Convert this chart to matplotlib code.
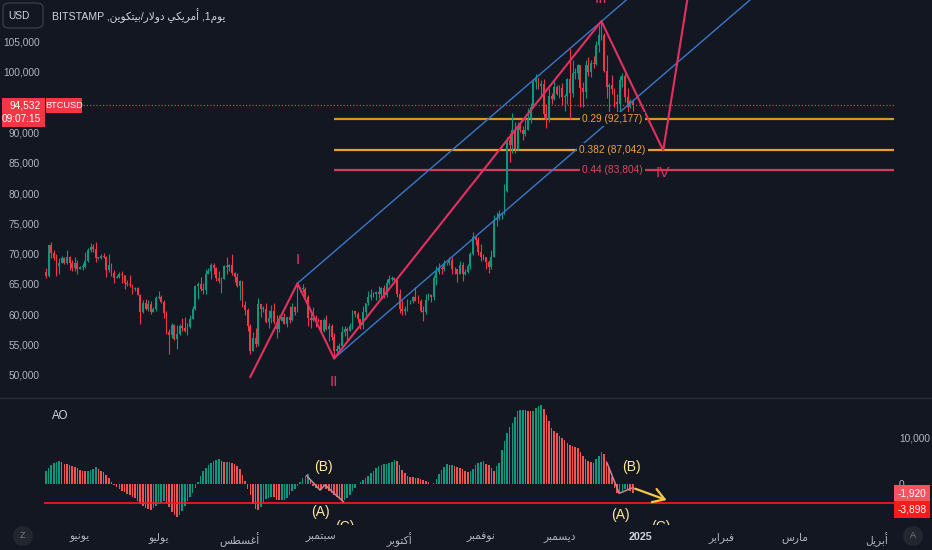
"""BTCUSD 일봉 + AO (TradingView 다크 테마 재현)

상단: 캔들 + 엘리엇 파동 / 채널 / 피보나치 레벨
하단: Awesome Oscillator 히스토그램
"""
import matplotlib
matplotlib.use("Agg")
import matplotlib.pyplot as plt
from matplotlib.lines import Line2D
from matplotlib.patches import Rectangle, FancyBboxPatch, Ellipse
import numpy as np
import pandas as pd

plt.rcParams["font.family"] = ["Liberation Sans", "DejaVu Sans"]

# === Data (가격: 천 달러) ===
START = "2024-05-19"
OPEN_FIRST = 66.9
CLOSE = [
    66.3, 71.4, 70.1, 69.2, 67.9, 68.5, 69.3, 68.5, 69.4, 68.4, 67.6, 68.4, 67.5,
    67.8, 67.8, 68.8, 70.6, 71.1, 70.8, 69.3, 69.3, 69.6, 69.5, 67.3, 68.2, 66.8, 66.0, 66.2, 66.6,
    66.5, 65.2, 65.0, 64.8, 64.1, 64.3, 63.2, 60.3, 61.8, 60.9, 61.7, 60.3, 60.9, 62.7,
    62.9, 62.0, 60.2, 57.0, 56.6, 58.2, 55.9, 56.7, 58.0, 57.7, 57.3, 57.9, 59.2, 60.8, 64.7, 65.0,
    64.1, 64.0, 66.7, 67.2, 68.2, 67.6, 65.9, 65.4, 65.8, 67.9, 67.8, 68.2, 66.8, 66.2, 64.6,
    65.4, 61.5, 60.7, 58.1, 54.0, 56.0, 55.0, 61.7, 60.9, 60.9, 58.7, 59.4, 60.6, 58.7, 57.6, 58.9,
    59.5, 58.4, 59.5, 59.0, 61.2, 60.4, 64.1, 64.2, 64.2, 62.8, 59.4, 59.0, 59.4, 59.1, 59.0,
    57.3, 59.1, 57.5, 58.0, 56.2, 54.0, 54.2, 54.8, 57.0, 57.6, 57.3, 58.1, 60.5, 60.0, 59.2,
    58.2, 60.3, 61.8, 62.9, 63.2, 63.4, 63.6, 63.3, 64.3, 63.2, 65.2, 65.8, 65.9, 65.6, 63.3,
    60.8, 60.6, 60.8, 62.1, 62.1, 62.8, 62.2, 62.1, 60.6, 60.3, 62.4, 63.2, 62.9, 66.0, 67.0, 67.6,
    67.4, 68.4, 68.4, 69.0, 67.4, 67.4, 66.7, 68.2, 66.6, 67.0, 68.0, 69.9, 72.7, 72.3, 70.3,
    69.5, 69.4, 68.7, 67.8, 69.4, 75.6, 75.9, 76.5, 76.7, 80.4, 88.7, 88.0, 90.5, 87.3, 91.1,
    90.5, 89.8, 90.5, 92.3, 94.3, 98.4, 99.0, 97.7, 98.0, 93.0, 92.0, 96.0, 95.6, 97.5, 96.4,
    97.3, 95.9, 96.0, 98.8, 96.6, 99.9, 99.9, 101.2, 97.4, 96.7, 101.2, 100.0, 101.5, 101.4, 104.5,
    106.1, 106.1, 100.2, 97.5, 97.8, 97.2, 95.1, 94.7, 98.7, 99.4, 95.8, 94.2, 95.2, 94.532,
]
HIGH = [
    67.7, 71.5, 71.9, 70.6, 70.0, 69.2, 69.6, 69.5, 70.6, 69.6, 68.9, 69.5, 69.0,
    67.9, 68.4, 70.2, 71.0, 71.7, 71.6, 71.9, 69.5, 69.9, 70.1, 69.6, 69.9, 68.4, 67.3, 66.4, 66.9,
    67.2, 66.5, 65.7, 66.5, 65.0, 64.5, 64.5, 63.4, 62.4, 62.5, 62.3, 62.2, 61.2, 63.0,
    63.8, 63.2, 62.3, 60.5, 57.5, 58.5, 58.3, 58.2, 58.3, 59.4, 59.6, 58.5, 59.8, 61.4, 64.9, 65.3,
    66.1, 65.1, 67.4, 67.6, 68.4, 68.5, 67.8, 67.1, 66.1, 68.2, 69.4, 68.3, 70.0, 66.9, 66.8,
    65.6, 65.0, 62.2, 61.1, 58.3, 57.0, 57.7, 62.7, 61.7, 61.4, 61.8, 60.7, 61.6, 61.8, 59.8, 59.8,
    59.6, 60.2, 59.6, 61.4, 61.8, 61.4, 64.9, 64.5, 65.0, 64.5, 63.2, 60.2, 61.2, 59.9, 59.4,
    59.1, 59.4, 59.8, 58.5, 58.3, 56.9, 54.9, 55.3, 58.1, 58.0, 57.9, 58.6, 60.7, 60.6, 60.4,
    59.2, 61.3, 61.8, 63.8, 64.1, 63.6, 63.9, 64.7, 64.5, 64.8, 65.8, 66.5, 66.3, 66.1, 65.6,
    64.1, 62.4, 61.4, 62.5, 62.4, 63.0, 64.5, 63.2, 62.5, 61.3, 63.4, 63.5, 63.3, 66.5, 67.9, 68.4,
    67.9, 68.9, 68.7, 69.4, 69.5, 67.8, 67.5, 68.8, 68.7, 67.4, 68.3, 70.3, 73.6, 72.9, 72.7,
    71.6, 69.9, 69.4, 69.0, 70.6, 76.4, 76.9, 77.2, 76.9, 81.5, 89.2, 89.9, 93.3, 91.8, 91.8,
    91.5, 91.0, 92.6, 94.0, 94.9, 98.9, 99.6, 99.0, 98.7, 98.9, 94.7, 97.3, 96.6, 98.7, 97.8,
    97.9, 98.2, 96.3, 99.0, 103.9, 101.9, 100.6, 101.4, 101.2, 98.3, 101.9, 102.5, 101.9, 102.6, 105.2,
    107.8, 108.3, 106.5, 102.8, 98.1, 99.5, 97.3, 96.4, 99.4, 99.9, 99.9, 97.3, 95.5, 95.2,
]
LOW = [
    65.9, 66.1, 69.2, 68.9, 66.3, 66.6, 68.5, 68.3, 68.3, 67.3, 67.2, 67.2, 66.7,
    67.4, 67.3, 67.6, 68.6, 70.2, 70.2, 68.6, 69.1, 69.1, 69.2, 66.1, 66.9, 66.3, 65.1, 65.9, 66.0,
    65.1, 64.1, 64.7, 64.5, 63.4, 63.9, 63.2, 58.4, 60.2, 60.7, 60.6, 60.0, 60.3, 60.6,
    62.5, 61.8, 59.4, 56.8, 53.5, 56.0, 55.8, 54.3, 56.6, 57.2, 57.0, 56.6, 57.8, 59.3, 60.7, 62.5,
    63.9, 63.3, 63.3, 66.6, 65.8, 66.6, 65.5, 65.1, 63.5, 65.8, 66.7, 67.1, 66.5, 65.3, 64.5,
    62.3, 61.2, 59.9, 57.3, 53.5, 54.0, 54.6, 54.8, 59.6, 60.3, 58.5, 57.7, 58.5, 58.4, 56.1, 57.1,
    58.8, 58.3, 57.9, 58.6, 58.8, 59.8, 60.4, 63.6, 63.7, 62.8, 58.1, 57.8, 58.8, 57.9, 58.7,
    57.2, 57.1, 57.4, 55.6, 55.7, 52.6, 53.7, 53.7, 54.6, 56.4, 55.6, 57.3, 57.6, 59.6, 58.7,
    57.5, 57.6, 59.2, 61.6, 62.4, 62.8, 62.4, 62.7, 62.7, 62.7, 62.9, 64.9, 65.4, 65.4, 62.9,
    60.2, 59.9, 59.9, 60.5, 61.7, 61.9, 62.1, 61.8, 60.3, 58.9, 60.1, 62.4, 62.0, 62.4, 64.8, 66.7,
    66.7, 67.1, 68.1, 68.1, 66.6, 66.6, 65.3, 66.6, 65.5, 66.5, 66.8, 67.5, 69.7, 71.4, 69.7,
    68.8, 69.0, 67.5, 66.8, 67.5, 69.4, 74.5, 75.6, 75.8, 76.5, 80.2, 85.1, 86.6, 86.7, 87.1,
    90.1, 88.8, 89.4, 90.4, 91.5, 94.1, 97.2, 97.2, 95.8, 92.6, 90.8, 91.8, 94.7, 95.4, 96.2,
    95.7, 94.5, 93.6, 94.7, 92.3, 95.9, 98.9, 98.8, 94.2, 94.3, 95.7, 99.3, 99.2, 100.7, 101.2,
    103.3, 105.3, 100.0, 95.7, 92.2, 96.4, 94.2, 92.4, 93.4, 97.6, 95.1, 93.3, 94.1, 93.5,
]
# Awesome Oscillator (천 단위)
AO = [
    2.9, 3.6, 4.1, 4.6, 4.9, 5.0, 4.9, 4.5, 4.3, 4.2,
    4.0, 3.8, 3.5, 3.2, 3.0, 2.9, 2.9, 3.2, 3.4, 3.7,
    3.4, 3.0, 2.6, 2.0, 1.4, 0.6, -0.2, -0.6, -1.0, -1.4,
    -1.7, -2.0, -2.2, -2.6, -2.9, -3.6, -4.2, -4.7, -5.0, -5.3,
    -5.4, -5.1, -4.7, -4.2, -3.9, -3.6, -4.2, -4.8, -6.0, -6.6,
    -7.0, -6.6, -5.8, -4.6, -3.6, -2.7, -1.8, -0.8, 0.5, 1.8,
    2.8, 3.6, 4.2, 4.6, 5.0, 5.3, 5.4, 5.0, 4.8, 4.8,
    4.8, 4.7, 4.5, 4.0, 3.4, 2.0, 0.8, -1.0, -2.2, -4.3,
    -5.2, -5.4, -4.9, -3.8, -3.2, -2.9, -2.6, -2.7, -3.3, -3.4,
    -3.4, -3.3, -3.0, -2.3, -1.5, -1.0, -0.4, 0.6, 1.4, 1.9,
    2.2, 1.0, -0.4, -0.7, -1.0, -1.1, -0.4, -0.9, -1.4, -1.8,
    -2.2, -2.6, -2.9, -3.6, -3.3, -2.9, -2.2, -1.4, -0.7, 0.2,
    0.6, 0.9, 1.3, 1.8, 2.4, 3.0, 3.5, 3.9, 4.1, 4.3,
    4.5, 4.7, 4.9, 5.2, 5.0, 4.1, 3.2, 2.4, 1.8, 1.7,
    1.6, 1.4, 1.3, 1.1, 0.9, 0.7, 0.6, 0.1, 0.4, 1.1,
    2.2, 3.2, 3.8, 4.3, 4.2, 4.2, 3.9, 3.7, 3.5, 3.4,
    3.0, 2.7, 3.0, 3.4, 4.1, 4.7, 4.9, 5.0, 4.5, 4.1,
    3.5, 3.0, 4.0, 4.7, 7.5, 9.3, 11.1, 12.3, 13.3, 14.6,
    15.8, 16.1, 16.1, 16.0, 15.9, 15.8, 15.8, 16.5, 16.8, 17.0,
    16.2, 15.0, 13.6, 12.2, 11.6, 11.1, 10.5, 10.0, 9.5, 9.0,
    8.6, 8.2, 8.0, 7.9, 7.0, 6.1, 5.5, 5.0, 4.8, 4.7,
    5.5, 6.1, 7.0, 6.6, 5.0, 3.5, 1.6, -0.8, -1.9, -1.6,
    -1.3, -0.9, -1.2, -1.5, -1.92,
]

PRICE_NOW = 94532
COUNTDOWN = "09:07:15"
AO_LINE = -3898

FIB_NAMES = ["0.29", "0.382", "0.44"]
FIB_PRICES = [92177, 87042, 83804]
FIB_START = 110  # 일봉 인덱스 (II 저점)

# 엘리엇 파동 (일봉 인덱스, 가격)
WAVE_X = [78, 96, 110, 212, 235.6, 250]
WAVE_P = [49650, 65100, 52700, 108400, 87042, 126000]
WAVE_NAMES = [None, "I", "II", "III", "IV", None]

CH_UP_X, CH_UP_P = [96, 280], [65100, 133700]
CH_LO_X, CH_LO_P = [110, 280], [52700, 116100]

# AO 보조 작도 (인덱스, 천 단위 값)
AO_SEP_X, AO_SEP_V = [99.5, 104.6, 106.5, 113.5], [1.9, -1.2, -0.1, -3.7]
AO_DEC_X, AO_DEC_V = [214.2, 218.8, 223.9], [4.6, -1.9, -0.7]
AO_ARROW_X, AO_ARROW_V = [223.9, 237.9], [-0.7, -3.55]
AO_TXT = ["(B)", "(A)", "(C)", "(B)", "(A)", "(C)"]
AO_TXT_X = [105.9, 104.9, 114.1, 223.3, 219.1, 234.7]
AO_TXT_V = [3.8, -6.0, -9.2, 3.8, -6.6, -9.2]

MONTH_DATES = ["2024-06-01", "2024-07-01", "2024-08-01", "2024-09-01", "2024-10-01",
               "2024-11-01", "2024-12-01", "2025-01-01", "2025-02-01", "2025-03-01",
               "2025-04-01"]
# 아랍어 (표시형, 시각 순서)
MONTH_LABELS = [
    "\ufeee\ufef4\ufee7\ufeee\ufef3",
    "\ufeee\ufef4\ufedf\ufeee\ufef3",
    "\ufeb2\ufec4\ufeb4\ufecf\ufe83",
    "\ufeae\ufe92\ufee4\ufe98\ufe92\ufeb3",
    "\ufeae\ufe91\ufeee\ufe98\ufedb\ufe83",
    "\ufeae\ufe92\ufee4\ufed3\ufeee\ufee7",
    "\ufeae\ufe92\ufee4\ufeb4\ufef3\ufea9",
    "2025",
    "\ufeae\ufef3\ufe8d\ufeae\ufe92\ufed3",
    "\ufeb1\ufead\ufe8e\ufee3",
    "\ufede\ufef3\ufeae\ufe91\ufe83",
]
TITLE = ("BITSTAMP ,\ufee6\ufef3\ufeee\ufedc\ufe98\ufef4\ufe91/\ufead\ufefb\ufeed\ufea9 "
         "\ufef2\ufedc\ufef3\ufeae\ufee3\ufe83 ,1\ufee1\ufeee\ufef3")

# === Style ===
W, H, DPI = 932, 550, 100
BG = "#131722"
TXT = "#b2b5be"
UP, DOWN = "#089981", "#F23645"
AO_UP, AO_DOWN = "#089981", "#F05350"
PINK = "#E5305F"
BLUE = "#3a78c9"
YEL = "#FFE8A0"
FIB_COLORS = ["#D99426", "#E9A12E", "#D33C5A"]
FIB_TXT = ["#F0A23A", "#F0A23A", "#E0465F"]
XLIM = (-0.75, 323.7)
FS = 7.3  # 축 라벨 글자 크기


def fx(px):
    return px / W


def fy(py):
    return 1 - py / H


def ypix(ax, val):
    return H - ax.transData.transform((0, val))[1]


def box(fig, x0, y0, x1, y1, color):
    fig.add_artist(Rectangle((fx(x0), fy(y1)), (x1 - x0) / W, (y1 - y0) / H,
                             transform=fig.transFigure, facecolor=color,
                             edgecolor="none", zorder=5))


def main():
    c = np.array(CLOSE) * 1000
    o = np.concatenate([[OPEN_FIRST], CLOSE[:-1]]) * 1000
    h = np.maximum(np.array(HIGH) * 1000, np.maximum(o, c))
    l = np.minimum(np.array(LOW) * 1000, np.minimum(o, c))
    x = np.arange(len(c))
    ao_v = np.array(AO) * 1000
    start = pd.Timestamp(START)

    fig = plt.figure(figsize=(W / DPI, H / DPI), dpi=DPI, facecolor=BG)
    ax = fig.add_axes([fx(44), fy(397), fx(894) - fx(44), fy(0) - fy(397)])
    ao = fig.add_axes([fx(44), fy(525), fx(894) - fx(44), fy(398) - fy(525)], sharex=ax)
    for a in (ax, ao):
        a.set_facecolor(BG)
        for s in a.spines.values():
            s.set_visible(False)

    # --- 캔들 ---
    up = c >= o
    colors = np.where(up, UP, DOWN)
    ax.vlines(x, l, h, colors=colors, lw=0.8, zorder=2)
    ax.bar(x, np.maximum(np.abs(c - o), 80), bottom=np.minimum(o, c), width=0.7,
           color=colors, linewidth=0, zorder=2)

    ax.set_xlim(*XLIM)
    ax.set_ylim(46325, 111890)
    ax.set_yticks(np.arange(50000, 105001, 5000))
    ax.set_yticklabels([f"{v:,}" for v in range(50000, 105001, 5000)])
    ax.tick_params(axis="y", length=0, pad=3, labelsize=FS, labelcolor=TXT)
    ax.tick_params(axis="x", bottom=False, labelbottom=False)

    # 현재가 점선
    ax.axhline(PRICE_NOW, color=DOWN, lw=0.9, ls=(0, (1, 1.6)), zorder=1)

    # 피보나치 레벨
    for name, p, lc, tc in zip(FIB_NAMES, FIB_PRICES, FIB_COLORS, FIB_TXT):
        ax.hlines(p, FIB_START, XLIM[1], color=lc, lw=1.6, zorder=1)
        ax.text(216.2, p, f"{name} ({p:,})", color=tc, fontsize=FS, ha="center",
                va="center", zorder=6,
                bbox=dict(boxstyle="square,pad=0.2", fc=BG, ec="none"))

    # 채널 + 파동
    ax.plot(CH_UP_X, CH_UP_P, color=BLUE, lw=1.0, zorder=3)
    ax.plot(CH_LO_X, CH_LO_P, color=BLUE, lw=1.0, zorder=3)
    ax.plot(WAVE_X, WAVE_P, color=PINK, lw=1.5, zorder=4)
    offsets = {"I": 17, "II": -17, "III": 16, "IV": -16}
    for wx, wp, nm in zip(WAVE_X, WAVE_P, WAVE_NAMES):
        if nm is None:
            continue
        ax.annotate(nm, (wx, wp), xytext=(0, offsets[nm]), textcoords="offset points",
                    color=PINK, fontsize=11, ha="center", va="center",
                    annotation_clip=False, zorder=6)

    # --- AO ---
    ao_cols = [AO_UP] + [AO_UP if ao_v[i] >= ao_v[i - 1] else AO_DOWN
                         for i in range(1, len(ao_v))]
    ao.bar(x, ao_v, width=0.6, color=ao_cols, linewidth=0, zorder=2)
    ao.axhline(AO_LINE, color="#FF1A1A", lw=1.2, zorder=3)
    ao.set_ylim(-8710, 18600)
    ao.yaxis.tick_right()
    ao.set_yticks([0, 10000])
    ao.set_yticklabels(["0", "10,000"])
    ao.tick_params(axis="y", length=0, pad=3.5, labelsize=FS, labelcolor=TXT)

    ao.plot(AO_SEP_X, np.array(AO_SEP_V) * 1000, color="#c98890", lw=1.1, zorder=4)
    ao.plot(AO_DEC_X, np.array(AO_DEC_V) * 1000, color="#c98890", lw=1.1, zorder=4)
    ao.annotate("", xy=(AO_ARROW_X[1], AO_ARROW_V[1] * 1000),
                xytext=(AO_ARROW_X[0], AO_ARROW_V[0] * 1000),
                arrowprops=dict(arrowstyle="->,head_length=0.8,head_width=0.5",
                                color="#F5C84A", lw=1.6), zorder=5)
    for t, tx, tv in zip(AO_TXT, AO_TXT_X, AO_TXT_V):
        ao.text(tx, tv * 1000, t, color=YEL, fontsize=10, ha="center", va="center",
                clip_on=True, zorder=6)

    # x축 월 라벨
    ticks = [(pd.Timestamp(d) - start).days for d in MONTH_DATES]
    ao.set_xticks(ticks)
    ao.set_xticklabels(MONTH_LABELS)
    ao.tick_params(axis="x", length=0, pad=5, labelsize=FS + 0.4, labelcolor=TXT)
    for lab in ao.get_xticklabels():
        if lab.get_text() == "2025":
            lab.set_fontweight("bold")
            lab.set_color("#d1d4dc")

    # --- 태그 / 장식 ---
    fig.add_artist(Line2D([0, 1], [fy(397.5)] * 2, transform=fig.transFigure,
                          color="#2a2e39", lw=1))
    yp = ypix(ax, PRICE_NOW)
    box(fig, 2, yp - 7, 45, yp + 22, DOWN)
    fig.text(fx(41), fy(yp), f"{PRICE_NOW:,}", color="white", fontsize=FS,
             ha="right", va="center", zorder=6)
    fig.text(fx(41), fy(yp + 14), COUNTDOWN, color="white", fontsize=FS,
             ha="right", va="center", zorder=6)
    box(fig, 46, yp - 7, 82, yp + 8, DOWN)
    fig.text(fx(64), fy(yp), "BTCUSD", color="white", fontsize=6.6,
             ha="center", va="center", zorder=6)

    ya = ypix(ao, ao_v[-1])
    box(fig, 894, ya - 8, 930, ya + 8, "#F7525F")
    fig.text(fx(898), fy(ya), f"{ao_v[-1]:,.0f}", color="white", fontsize=FS,
             ha="left", va="center", zorder=6)
    box(fig, 894, ya + 8, 930, ya + 25, "#FF1A1A")
    fig.text(fx(898), fy(ya + 16.5), f"{AO_LINE:,}", color="white", fontsize=FS,
             ha="left", va="center", zorder=6)

    fig.add_artist(FancyBboxPatch((fx(3), fy(28)), 40 / W, 25 / H,
                                  boxstyle="round,pad=0,rounding_size=0.008",
                                  transform=fig.transFigure, fc=BG, ec="#363a45", lw=1))
    fig.text(fx(19), fy(16), "USD", color="#d1d4dc", fontsize=FS, ha="center", va="center")
    fig.text(fx(52), fy(16), TITLE, color="#d1d4dc", fontsize=7.6, ha="left", va="center")
    fig.text(fx(52), fy(416), "AO", color="#d1d4dc", fontsize=8.3, ha="left", va="center")

    for cx, lab in [(23, "Z"), (913, "A")]:
        fig.add_artist(Ellipse((fx(cx), fy(536)), 20 / W, 20 / H,
                               transform=fig.transFigure, fc="#22262f", ec="none"))
        fig.text(fx(cx), fy(536), lab, color="#787b86", fontsize=6.5,
                 ha="center", va="center")

    fig.savefig("out.png", dpi=DPI, facecolor=BG)
    plt.close(fig)


if __name__ == "__main__":
    main()
